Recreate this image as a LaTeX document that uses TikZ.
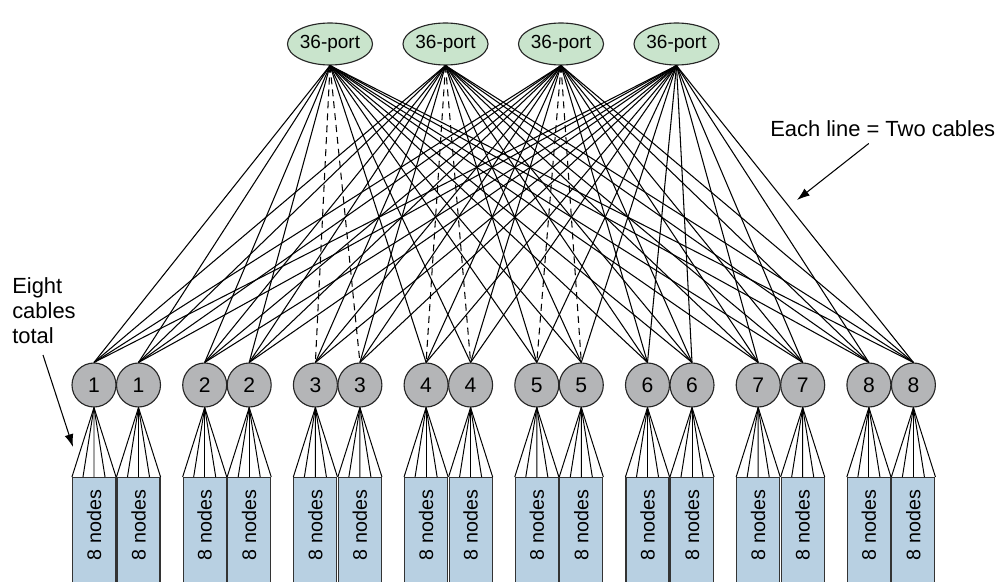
\documentclass[tikz,border=0pt]{standalone}
\usepackage{fontspec}
\setmainfont{Liberation Sans}
\usetikzlibrary{arrows.meta, calc, shapes.geometric, positioning}

\definecolor{spinegreen}{RGB}{201,228,204}
\definecolor{leafgray}{RGB}{180,181,183}
\definecolor{rackblue}{RGB}{184,208,226}

\begin{document}
\begin{tikzpicture}[
    x=0.25mm, y=-0.25mm,
    >={Latex[length=3.2mm,width=2.2mm]},
    every node/.style={inner sep=0pt},
    spine/.style={ellipse, draw=black!85, fill=spinegreen, line width=0.8pt,
                  minimum width=20.25mm, minimum height=10.5mm,
                  font=\fontsize{13.5}{16}\selectfont},
    leaf/.style={circle, draw=black!85, fill=leafgray, line width=0.8pt,
                 minimum size=11mm, font=\fontsize{15}{18}\selectfont},
    rack/.style={rectangle, draw=black!80, fill=rackblue, line width=0.8pt,
                 minimum width=10.75mm, minimum height=30mm, anchor=north},
    racklbl/.style={rotate=90, font=\fontsize{14}{16}\selectfont},
    uplink/.style={draw=black, line width=0.75pt},
    backup/.style={uplink, dash pattern=on 5pt off 3.5pt},
    cable/.style={draw=black, line width=0.7pt},
    annot/.style={font=\fontsize{15.6}{17.9}\selectfont, align=left},
    note/.style={->, draw=black, line width=0.75pt},
  ]

  %% --- page frame (pixel grid, y downwards) ------------------------------
  \useasboundingbox (0,0) rectangle (1004,582);
  \clip (0,0) rectangle (1004,582);

  %% --- row y-positions and leaf column pitch -----------------------------
  \def\ySpine{44}    % 36-port spine switches
  \def\yLeaf{385}    % leaf switches
  \def\yRack{477}    % top of the racks
  \def\xFirst{94}    % first leaf
  \def\xPitch{110.7} % pair to pair
  \def\xPair{44.5}   % inside a pair

  %% --- spine switches ----------------------------------------------------
  \node[spine] (s1) at (330,\ySpine)   {36-port};
  \node[spine] (s2) at (445.5,\ySpine) {36-port};
  \node[spine] (s3) at (561,\ySpine)   {36-port};
  \node[spine] (s4) at (676.5,\ySpine) {36-port};

  %% --- leaf switches and racks -------------------------------------------
  \foreach \i in {1,...,8}{
    \pgfmathsetmacro{\xL}{\xFirst+\xPitch*(\i-1)}
    \node[leaf] (la\i) at (\xL,\yLeaf)        {\i};
    \node[leaf] (lb\i) at (\xL+\xPair,\yLeaf) {\i};
    \node[rack] (ra\i) at (\xL,\yRack)        {};
    \node[rack] (rb\i) at (\xL+\xPair,\yRack) {};
    \node[racklbl] (ta\i) at ($(ra\i.north)+(0,48)$) {8 nodes};
    \node[racklbl] (tb\i) at ($(rb\i.north)+(0,48)$) {8 nodes};
  }

  %% --- leaf -> rack fans (five lines each) -------------------------------
  \foreach \i in {1,...,8}{
    \foreach \side in {a,b}{
      \foreach \f in {0,0.25,0.5,0.75,1}
        \draw[cable] (l\side\i.south) -- ($(r\side\i.north west)!\f!(r\side\i.north east)$);
    }
  }

  %% --- spine -> leaf uplinks (dashed for the straight-down pair) ----------
  \foreach \s in {1,...,4}{
    \foreach \i in {1,...,8}{
      \def\lk{uplink}
      \ifnum\numexpr\s+2\relax=\i \ifnum\s<4 \def\lk{backup}\fi\fi
      \draw[\lk] (s\s.south) -- (la\i.north);
      \draw[\lk] (s\s.south) -- (lb\i.north);
    }
  }

  %% --- annotations -------------------------------------------------------
  \node[annot, anchor=base west] (eachlbl) at (770,137) {Each line = Two cables};
  \coordinate (eachtip) at (797,200);
  \draw[note] ([shift={(-14,6)}]eachlbl.south) -- (eachtip);

  \node[annot, anchor=north west] (eightlbl) at (12,277) {Eight\\cables\\total};
  \coordinate (eighttip) at (73,447);
  \draw[note] ([shift={(31,11)}]eightlbl.south west) -- (eighttip);

\end{tikzpicture}
\end{document}
